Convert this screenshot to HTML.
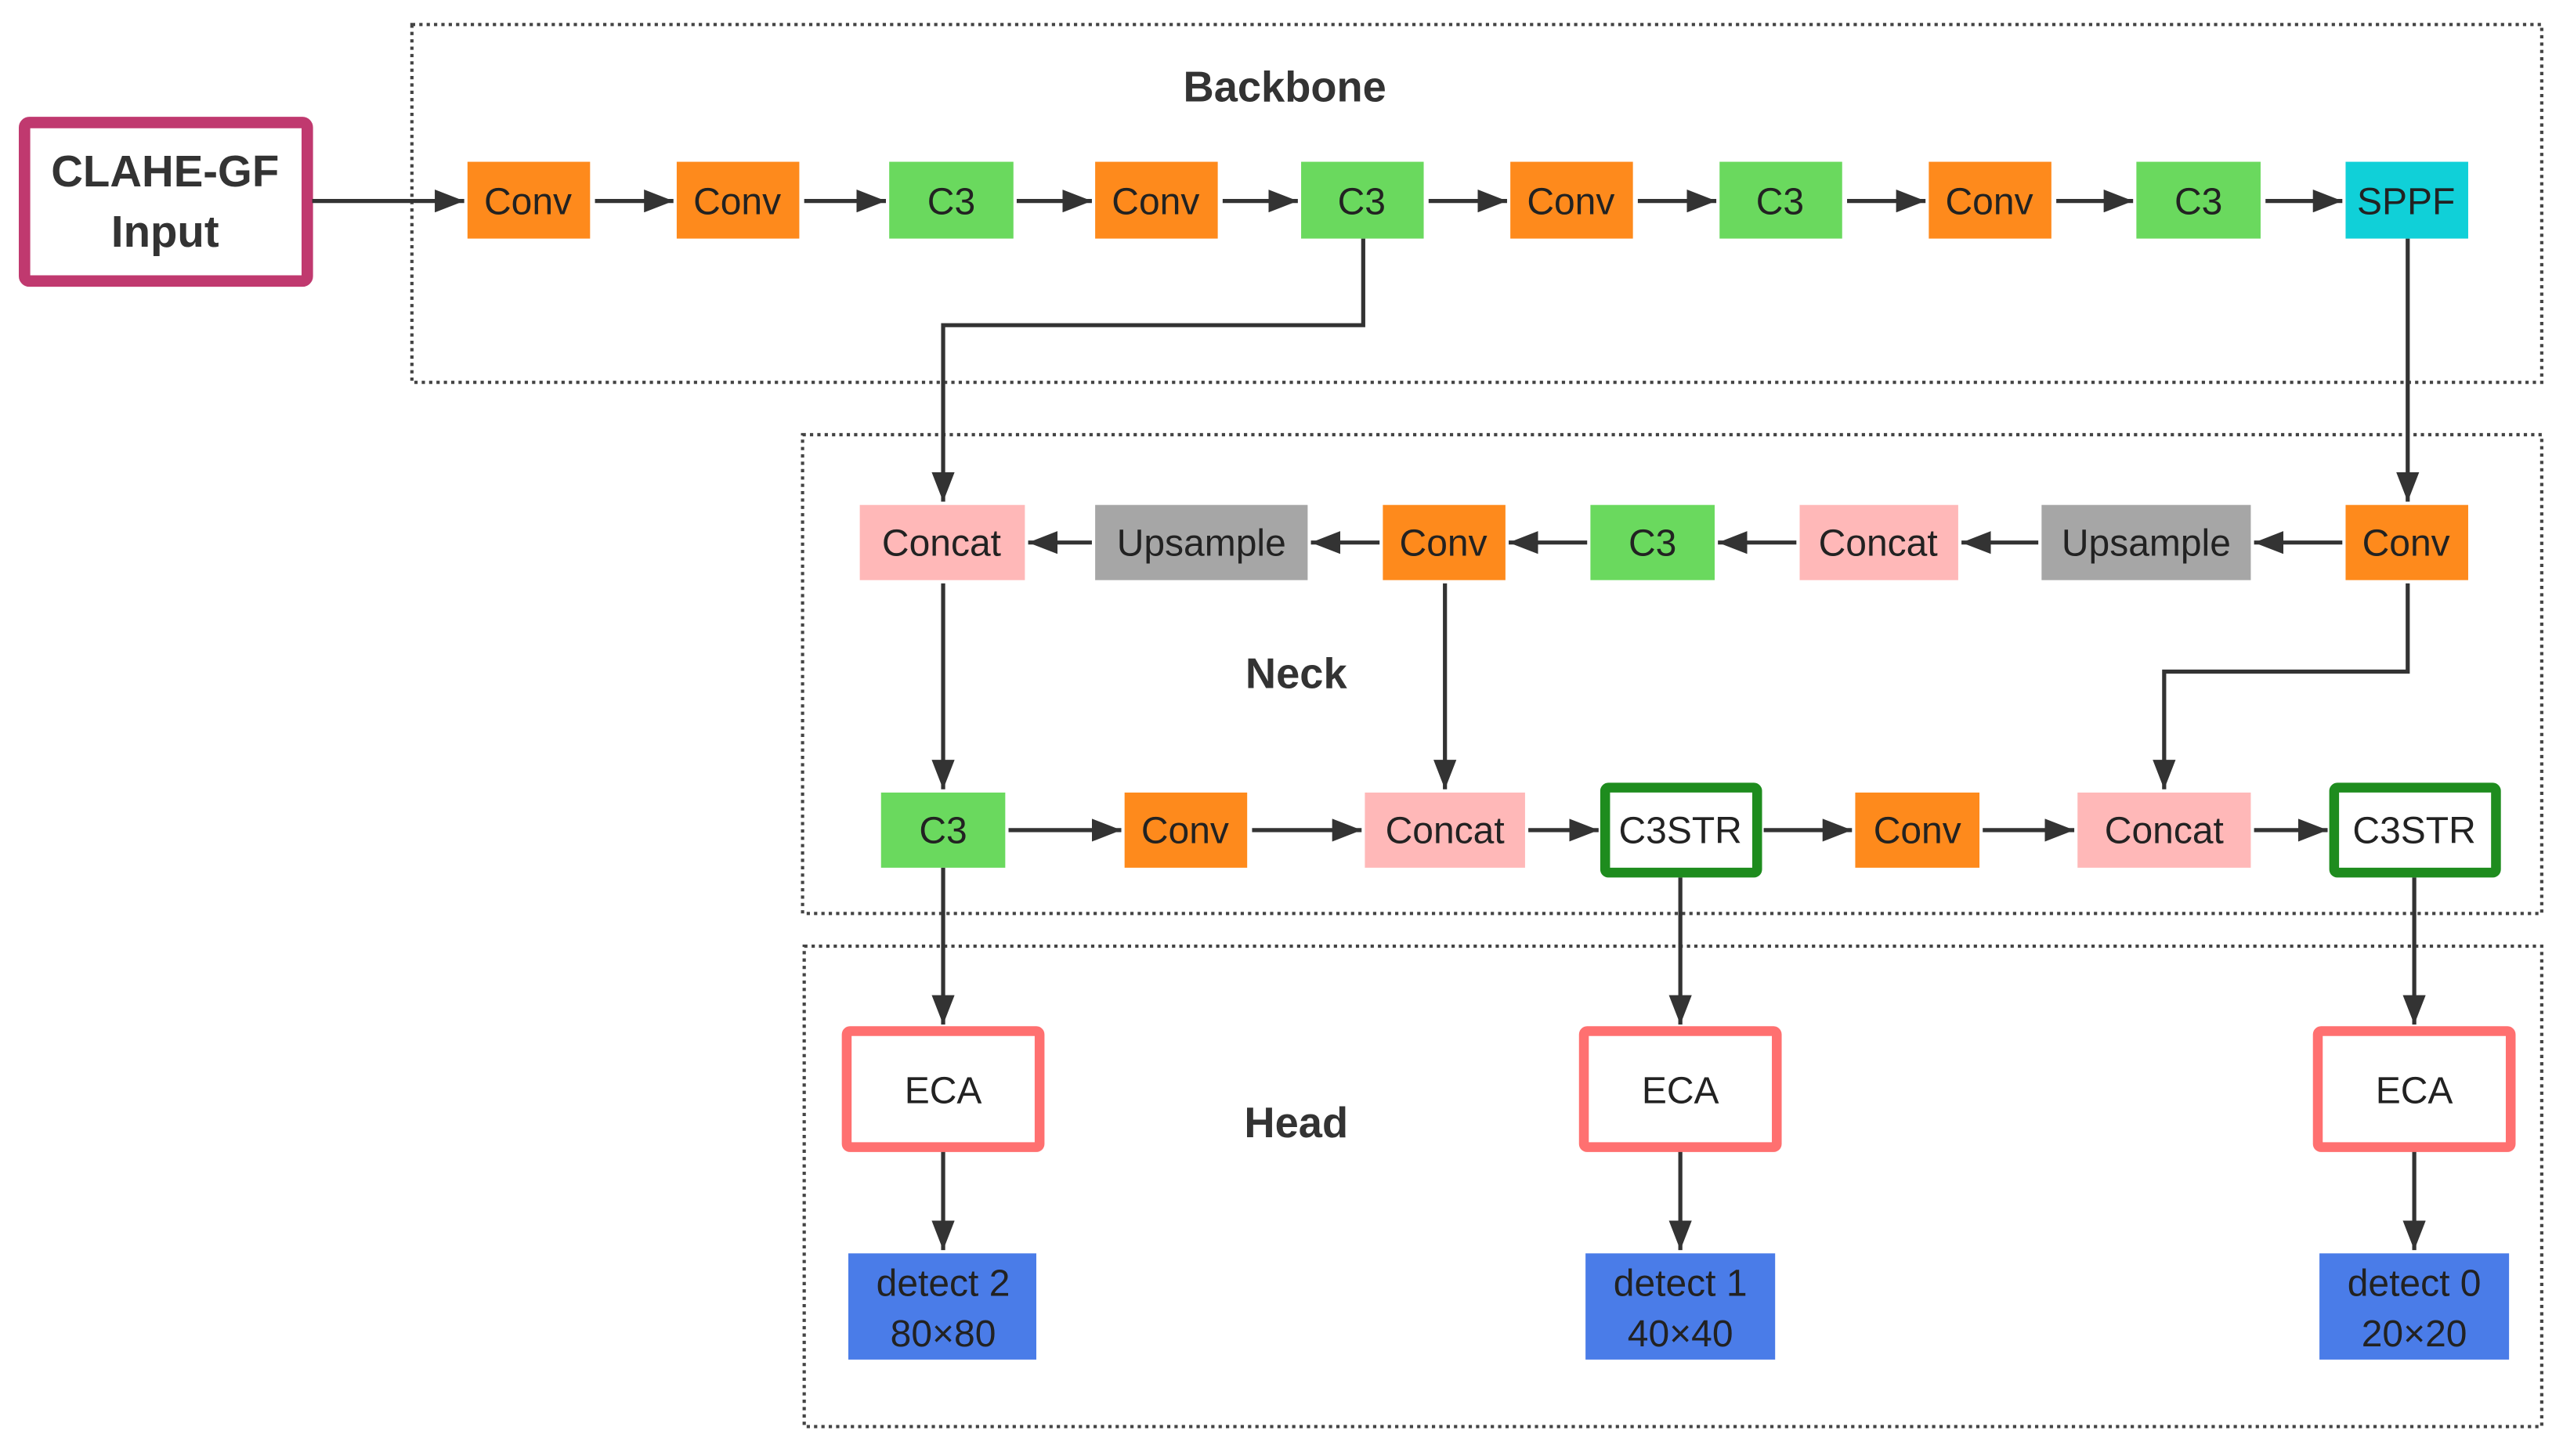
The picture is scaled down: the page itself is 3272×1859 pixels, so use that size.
<!DOCTYPE html>
<html><head><meta charset="utf-8"><style>html,body{margin:0;padding:0;background:#fff}svg{display:block}</style></head><body>
<svg width="3272" height="1859" viewBox="0 0 1568 891" preserveAspectRatio="none" xmlns="http://www.w3.org/2000/svg" font-family="Liberation Sans, sans-serif">
<defs><marker id="a" markerWidth="10" markerHeight="10" refX="9" refY="5" orient="auto" markerUnits="userSpaceOnUse"><path d="M0,0 L18,5 L0,10 z" transform="scale(0.55,1)" fill="#333"/></marker>
<marker id="b" markerWidth="20" markerHeight="14" refX="18" refY="7" orient="auto" markerUnits="userSpaceOnUse"><path d="M0,0 L18,7 L0,14 z" fill="#333"/></marker></defs>
<g fill="none" stroke="#444" stroke-width="2" stroke-dasharray="2,2.5">
<rect x="252" y="15" width="1303" height="219"/>
<rect x="491" y="266" width="1064" height="293"/>
<rect x="492" y="579" width="1063" height="294"/>
</g>
<g font-weight="bold" font-size="26" fill="#333" text-anchor="middle">
<text x="786" y="62">Backbone</text><text x="793" y="421">Neck</text><text x="793" y="696">Head</text>
</g>
<rect x="15" y="75" width="173" height="97" rx="3" fill="#fff" stroke="#c0396f" stroke-width="7"/>
<g font-weight="bold" font-size="27" fill="#333" text-anchor="middle"><text x="101" y="114">CLAHE-GF</text><text x="101" y="151">Input</text></g>
<g stroke="#333" stroke-width="2.5" fill="none" marker-end="url(#b)">
<line x1="191" y1="123" x2="284" y2="123"/>
<line x1="364" y1="123" x2="412" y2="123"/><line x1="492" y1="123" x2="542" y2="123"/>
<line x1="622" y1="123" x2="668" y2="123"/><line x1="748" y1="123" x2="794" y2="123"/>
<line x1="874" y1="123" x2="922" y2="123"/><line x1="1002" y1="123" x2="1050" y2="123"/>
<line x1="1130" y1="123" x2="1178" y2="123"/><line x1="1258" y1="123" x2="1305" y2="123"/>
<line x1="1386" y1="123" x2="1433" y2="123"/>
<polyline points="834,146 834,199 577,199 577,307"/>
<line x1="1473" y1="146" x2="1473" y2="307"/>
<line x1="1433" y1="332" x2="1379" y2="332"/><line x1="1247" y1="332" x2="1200" y2="332"/>
<line x1="1099" y1="332" x2="1051" y2="332"/><line x1="971" y1="332" x2="923" y2="332"/>
<line x1="844" y1="332" x2="802" y2="332"/><line x1="668" y1="332" x2="629" y2="332"/>
<line x1="577" y1="357" x2="577" y2="483"/><line x1="884" y1="357" x2="884" y2="483"/>
<polyline points="1473,357 1473,411 1324,411 1324,483"/>
<line x1="617" y1="508" x2="686" y2="508"/><line x1="766" y1="508" x2="833" y2="508"/>
<line x1="935" y1="508" x2="978" y2="508"/><line x1="1079" y1="508" x2="1133" y2="508"/>
<line x1="1213" y1="508" x2="1269" y2="508"/><line x1="1379" y1="508" x2="1424" y2="508"/>
<line x1="577" y1="531" x2="577" y2="627"/><line x1="1028" y1="537" x2="1028" y2="627"/><line x1="1477" y1="537" x2="1477" y2="627"/>
<line x1="577" y1="704" x2="577" y2="765"/><line x1="1028" y1="704" x2="1028" y2="765"/><line x1="1477" y1="704" x2="1477" y2="765"/>
</g>
<g>
<rect x="286" y="99" width="75" height="47" fill="#fe8a1c"/><rect x="414" y="99" width="75" height="47" fill="#fe8a1c"/>
<rect x="544" y="99" width="76" height="47" fill="#6ad95e"/><rect x="670" y="99" width="75" height="47" fill="#fe8a1c"/>
<rect x="796" y="99" width="75" height="47" fill="#6ad95e"/><rect x="924" y="99" width="75" height="47" fill="#fe8a1c"/>
<rect x="1052" y="99" width="75" height="47" fill="#6ad95e"/><rect x="1180" y="99" width="75" height="47" fill="#fe8a1c"/>
<rect x="1307" y="99" width="76" height="47" fill="#6ad95e"/><rect x="1435" y="99" width="75" height="47" fill="#10d0d8"/>
<rect x="526" y="309" width="101" height="46" fill="#ffb8b8"/><rect x="670" y="309" width="130" height="46" fill="#a6a6a6"/>
<rect x="846" y="309" width="75" height="46" fill="#fe8a1c"/><rect x="973" y="309" width="76" height="46" fill="#6ad95e"/>
<rect x="1101" y="309" width="97" height="46" fill="#ffb8b8"/><rect x="1249" y="309" width="128" height="46" fill="#a6a6a6"/>
<rect x="1435" y="309" width="75" height="46" fill="#fe8a1c"/>
<rect x="539" y="485" width="76" height="46" fill="#6ad95e"/><rect x="688" y="485" width="75" height="46" fill="#fe8a1c"/>
<rect x="835" y="485" width="98" height="46" fill="#ffb8b8"/>
<rect x="982" y="482" width="93" height="52" rx="2" fill="#fff" stroke="#1e8c1e" stroke-width="6"/>
<rect x="1135" y="485" width="76" height="46" fill="#fe8a1c"/><rect x="1271" y="485" width="106" height="46" fill="#ffb8b8"/>
<rect x="1428" y="482" width="99" height="52" rx="2" fill="#fff" stroke="#1e8c1e" stroke-width="6"/>
<rect x="518" y="631" width="118" height="71" rx="2" fill="#fff" stroke="#ff7070" stroke-width="6"/>
<rect x="969" y="631" width="118" height="71" rx="2" fill="#fff" stroke="#ff7070" stroke-width="6"/>
<rect x="1418" y="631" width="118" height="71" rx="2" fill="#fff" stroke="#ff7070" stroke-width="6"/>
<rect x="519" y="767" width="115" height="65" fill="#4a7ce8"/><rect x="970" y="767" width="116" height="65" fill="#4a7ce8"/>
<rect x="1419" y="767" width="116" height="65" fill="#4a7ce8"/>
</g>
<g font-size="23" fill="#222" text-anchor="middle">
<text x="323" y="131">Conv</text><text x="451" y="131">Conv</text><text x="582" y="131">C3</text><text x="707" y="131">Conv</text>
<text x="833" y="131">C3</text><text x="961" y="131">Conv</text><text x="1089" y="131">C3</text><text x="1217" y="131">Conv</text>
<text x="1345" y="131">C3</text><text x="1472" y="131">SPPF</text>
<text x="576" y="340">Concat</text><text x="735" y="340">Upsample</text><text x="883" y="340">Conv</text><text x="1011" y="340">C3</text>
<text x="1149" y="340">Concat</text><text x="1313" y="340">Upsample</text><text x="1472" y="340">Conv</text>
<text x="577" y="516">C3</text><text x="725" y="516">Conv</text><text x="884" y="516">Concat</text><text x="1028" y="516">C3STR</text>
<text x="1173" y="516">Conv</text><text x="1324" y="516">Concat</text><text x="1477" y="516">C3STR</text>
<text x="577" y="675">ECA</text><text x="1028" y="675">ECA</text><text x="1477" y="675">ECA</text>
<text x="577" y="793">detect 2</text><text x="577" y="824">80×80</text>
<text x="1028" y="793">detect 1</text><text x="1028" y="824">40×40</text>
<text x="1477" y="793">detect 0</text><text x="1477" y="824">20×20</text>
</g>
</svg>
</body></html>
